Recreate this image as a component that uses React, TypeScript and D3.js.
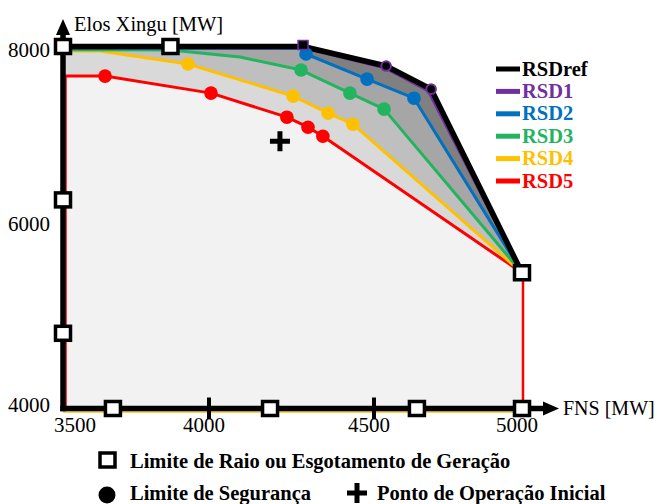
import React from "react";
import * as d3 from "d3";

type P = [number, number];

const X_TICKS = [3500, 4000, 4500, 5000];
const Y_TICKS = [4000, 6000, 8000];
const CONVERGE: P = [5000, 5500];

const refLine: P[] = [[3500, 8000], [4285, 8000], [4541, 7784], [4693, 7529], CONVERGE];
const refDots: P[] = [[4541, 7784], [4693, 7529]];
const refCorner: P = [4285, 8000];
const rsd1Line: P[] = [[3500, 7990], [4283, 7990], [4536, 7768], [4684, 7512], CONVERGE];
const rsd2Head: P[] = [[3500, 7980], [4276, 7980]];
const rsd2Dots: P[] = [[4294, 7917], [4479, 7640], [4635, 7429]];
const rsd3Head: P[] = [[3500, 7965], [3868, 7962], [4094, 7884]];
const rsd3Dots: P[] = [[4279, 7740], [4427, 7485], [4534, 7308]];
const rsd4Head: P[] = [[3500, 7950], [3627, 7950]];
const rsd4Dots: P[] = [[3928, 7806], [4255, 7452], [4361, 7263], [4436, 7141]];
const rsd5Head: P[] = [[3500, 7673]];
const rsd5Dots: P[] = [[3644, 7673], [4006, 7485], [4236, 7219], [4300, 7108], [4345, 7008]];

const limitSquares: P[] = [
  [3500, 8000], [3868, 8000], [5000, 5500], [5000, 4000],
  [3500, 6305], [3500, 4831], [3671, 4000], [4185, 4000], [4645, 4000],
];
const operatingPoint: P = [4215, 6953];

const seriesNames = ["RSDref", "RSD1", "RSD2", "RSD3", "RSD4", "RSD5"];
const seriesColors = ["#000000", "#7030a0", "#0070c0", "#22b45f", "#ffc000", "#ff0000"];
const fillColors = ["#808080", "#808080", "#a6a6a6", "#bfbfbf", "#d9d9d9", "#f2f2f2"];

const x = d3.scaleLinear().domain([3500, 4000, 4500, 5000]).range([63, 209, 374, 522]);
const y = d3.scaleLinear().domain([4000, 8000]).range([408.5, 46.5]);

const line = d3.line<P>().x((d) => x(d[0])).y((d) => y(d[1]));

const lines: P[][] = [
  refLine,
  rsd1Line,
  [...rsd2Head, ...rsd2Dots, CONVERGE],
  [...rsd3Head, ...rsd3Dots, CONVERGE],
  [...rsd4Head, ...rsd4Dots, CONVERGE],
  [...rsd5Head, ...rsd5Dots, CONVERGE],
];
const dotSets: P[][] = [[], [], rsd2Dots, rsd3Dots, rsd4Dots, rsd5Dots];
const lineWidths = [5.5, 3.5, 3, 3, 3, 3];

const SERIF = "Liberation Serif, Tinos, Times New Roman, DejaVu Serif, serif";
const tStyle = { fontFamily: SERIF };

function Cross({ cx, cy, size, w }: { cx: number; cy: number; size: number; w: number }) {
  return (
    <g>
      <rect x={cx - size / 2} y={cy - w / 2} width={size} height={w} fill="#000" />
      <rect x={cx - w / 2} y={cy - size / 2} width={w} height={size} fill="#000" />
    </g>
  );
}

export default function App() {
  const x0 = x(3500);
  const y0 = y(4000);
  const xMax = x(5000);
  const yMaxV = Y_TICKS[Y_TICKS.length - 1];
  return (
    <svg
      width={659}
      height={504}
      style={{ position: "absolute", left: 0, top: 0, background: "#fff" }}
    >
      {/* fills */}
      {lines.map((pts, i) => (
        <path
          key={"f" + i}
          d={line([...pts, [5000, 4000], [3500, 4000]] as P[]) + "Z"}
          fill={fillColors[i]}
        />
      ))}
      {/* edges */}
      <line x1={x0} x2={xMax} y1={y0 + 3.5} y2={y0 + 3.5} stroke="#ffc000" strokeWidth={1.5} />
      <line x1={x0 + 3} x2={x0 + 3} y1={y(rsd5Head[0][1])} y2={y0} stroke="#ff0000" strokeWidth={1.5} />
      <line x1={xMax + 1} x2={xMax + 1} y1={y(CONVERGE[1])} y2={y0} stroke="#ff0000" strokeWidth={2.5} />
      {/* series lines, drawn bottom up so RSDref is on top */}
      {lines
        .map((pts, i) => ({ pts, i }))
        .reverse()
        .map(({ pts, i }) => (
          <path
            key={"l" + i}
            d={line(pts) as string}
            fill="none"
            stroke={seriesColors[i]}
            strokeWidth={lineWidths[i]}
            strokeLinejoin="round"
          />
        ))}
      {dotSets.map((pts, i) =>
        pts.map((p, j) => (
          <circle key={`d${i}-${j}`} cx={x(p[0])} cy={y(p[1])} r={6.8} fill={seriesColors[i]} />
        ))
      )}
      {/* axes */}
      <line x1={x0} x2={x0} y1={y0 + 2.75} y2={33} stroke="#000" strokeWidth={5.5} />
      <polygon points={`${x0},19 ${x0 - 7},35 ${x0 + 7},35`} fill="#000" />
      <line x1={x0 - 2.75} x2={545} y1={y0} y2={y0} stroke="#000" strokeWidth={5.5} />
      <polygon points={`559,${y0} 543,${y0 - 7} 543,${y0 + 7}`} fill="#000" />
      {X_TICKS.slice(1, 3).map((v) => (
        <line key={"t" + v} x1={x(v)} x2={x(v)} y1={y0 - 11} y2={y0 + 11} stroke="#000" strokeWidth={4} />
      ))}
      {/* tick labels */}
      {X_TICKS.map((v, i) => (
        <text key={"xl" + v} style={tStyle} x={i === 0 ? x(v) + 12 : x(v) - 5} y={432} fontSize={21} textAnchor="middle">
          {v}
        </text>
      ))}
      {Y_TICKS.map((v) => (
        <text key={"yl" + v} style={tStyle} x={50} y={v === yMaxV ? y(v) + 10.5 : y(v) + 3.5} fontSize={21} textAnchor="end">
          {v}
        </text>
      ))}
      <text style={tStyle} x={74} y={31} fontSize={20.5}>Elos Xingu [MW]</text>
      <text style={tStyle} x={563} y={415} fontSize={20}>FNS [MW]</text>
      {/* markers */}
      {limitSquares.map((p, i) => (
        <rect
          key={"s" + i}
          x={x(p[0]) - 7.5}
          y={y(p[1]) - 7}
          width={15}
          height={14}
          fill="#fff"
          stroke="#000"
          strokeWidth={3.5}
        />
      ))}
      <rect x={x(refCorner[0]) - 5} y={y(refCorner[1]) - 6} width={10} height={9} fill="#000" stroke="#7030a0" strokeWidth={1.5} />
      {refDots.map((p, i) => (
        <circle key={"rd" + i} cx={x(p[0])} cy={y(p[1])} r={4.8} fill="#000" stroke="#7030a0" strokeWidth={2} />
      ))}
      <Cross cx={x(operatingPoint[0])} cy={y(operatingPoint[1])} size={20} w={5} />
      {/* series legend */}
      {seriesNames.map((n, i) => {
        const ly = 69 + i * 22.4;
        return (
          <g key={"lg" + n}>
            <line x1={496} x2={520} y1={ly} y2={ly} stroke={seriesColors[i]} strokeWidth={5} />
            <text style={tStyle} x={522} y={ly + 6.5} fontSize={20.5} fontWeight="bold" fill={seriesColors[i]}>
              {n}
            </text>
          </g>
        );
      })}
      {/* marker legend */}
      <rect x={100} y={453} width={15} height={14} fill="#fff" stroke="#000" strokeWidth={3.5} />
      <text style={tStyle} x={130} y={468} fontSize={20.5} fontWeight="bold">Limite de Raio ou Esgotamento de Geração</text>
      <circle cx={107} cy={495} r={8.5} fill="#000" />
      <text style={tStyle} x={130} y={500} fontSize={20.5} fontWeight="bold">Limite de Segurança</text>
      <Cross cx={357} cy={493} size={20} w={5} />
      <text style={tStyle} x={377} y={500} fontSize={20.5} fontWeight="bold">Ponto de Operação Inicial</text>
    </svg>
  );
}
